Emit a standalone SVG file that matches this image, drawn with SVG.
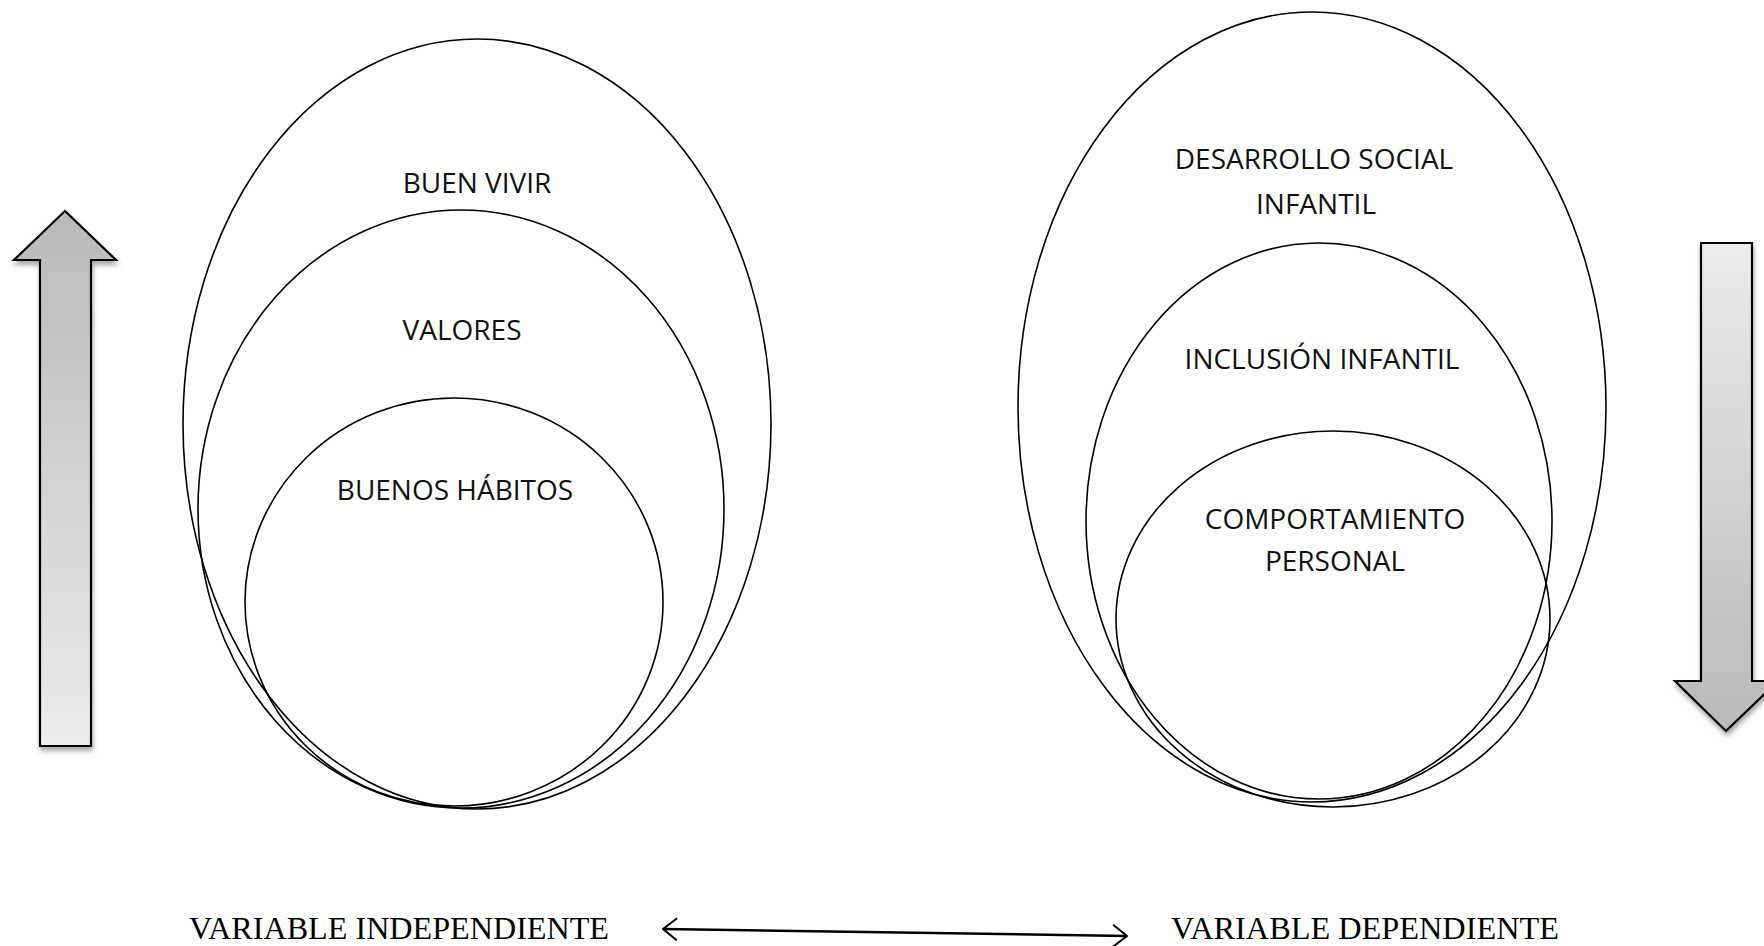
<svg xmlns="http://www.w3.org/2000/svg" width="1764" height="946" viewBox="0 0 1764 946">
<style>
.ring{fill:none;stroke:#000;stroke-width:1.6}
.lbl{font-family:"Open Sans","Noto Sans",sans-serif;font-size:28px;fill:#111;text-anchor:middle}
.var{font-family:"Liberation Serif","Times New Roman",serif;font-size:32px;fill:#000}
.big{stroke:#000;stroke-width:2.2;stroke-linejoin:miter}
</style>
<defs>
<linearGradient id="gUp" x1="0" y1="0" x2="0" y2="1">
<stop offset="0" stop-color="#b9b9b9"/>
<stop offset="1" stop-color="#ececec"/>
</linearGradient>
<linearGradient id="gDown" x1="0" y1="0" x2="0" y2="1">
<stop offset="0" stop-color="#ececec"/>
<stop offset="1" stop-color="#b9b9b9"/>
</linearGradient>
<filter id="sh" x="-30%" y="-10%" width="160%" height="120%">
<feGaussianBlur in="SourceAlpha" stdDeviation="2.5"/>
<feOffset dx="1" dy="4" result="b"/>
<feComponentTransfer><feFuncA type="linear" slope="0.35"/></feComponentTransfer>
<feMerge><feMergeNode/><feMergeNode in="SourceGraphic"/></feMerge>
</filter>
<marker id="open" viewBox="0 0 16 24" refX="15" refY="12" markerWidth="16" markerHeight="24" markerUnits="userSpaceOnUse" orient="auto-start-reverse">
<path d="M1,1 L15,12 L1,23" fill="none" stroke="#000" stroke-width="2"/>
</marker>
</defs>

<g id="arrow-up">
<path class="big" fill="url(#gUp)" filter="url(#sh)" d="M65,211 L116,260 L91,260 L91,746 L40,746 L40,260 L14,260 Z"/>
</g>
<g id="arrow-down">
<path class="big" fill="url(#gDown)" filter="url(#sh)" d="M1701,243 L1752,243 L1752,681 L1778,681 L1726,731 L1675,681 L1701,681 Z"/>
</g>

<g id="independiente">
<ellipse class="ring" cx="477" cy="424" rx="294" ry="385"/>
<ellipse class="ring" cx="461" cy="509" rx="263" ry="299"/>
<ellipse class="ring" cx="454" cy="602" rx="209" ry="204"/>
<text class="lbl" x="477" y="193">BUEN VIVIR</text>
<text class="lbl" x="462" y="340">VALORES</text>
<text class="lbl" x="455" y="500">BUENOS HÁBITOS</text>
</g>

<g id="dependiente">
<ellipse class="ring" cx="1312" cy="407" rx="294" ry="395"/>
<ellipse class="ring" cx="1319" cy="521" rx="233" ry="278"/>
<ellipse class="ring" cx="1333" cy="619" rx="217" ry="188"/>
<text class="lbl" x="1314" y="169">DESARROLLO SOCIAL</text>
<text class="lbl" x="1316" y="214">INFANTIL</text>
<text class="lbl" x="1322" y="369">INCLUSIÓN INFANTIL</text>
<text class="lbl" x="1335" y="529">COMPORTAMIENTO</text>
<text class="lbl" x="1335" y="571">PERSONAL</text>
</g>

<g id="var-independiente">
<text class="var" x="189" y="939" textLength="420" lengthAdjust="spacingAndGlyphs">VARIABLE INDEPENDIENTE</text>
</g>
<g id="var-dependiente">
<text class="var" x="1171" y="939" textLength="388" lengthAdjust="spacingAndGlyphs">VARIABLE DEPENDIENTE</text>
</g>

<g id="connectors">
<line x1="663" y1="929" x2="1127" y2="936" stroke="#000" stroke-width="2.5" marker-start="url(#open)" marker-end="url(#open)"/>
</g>
</svg>
